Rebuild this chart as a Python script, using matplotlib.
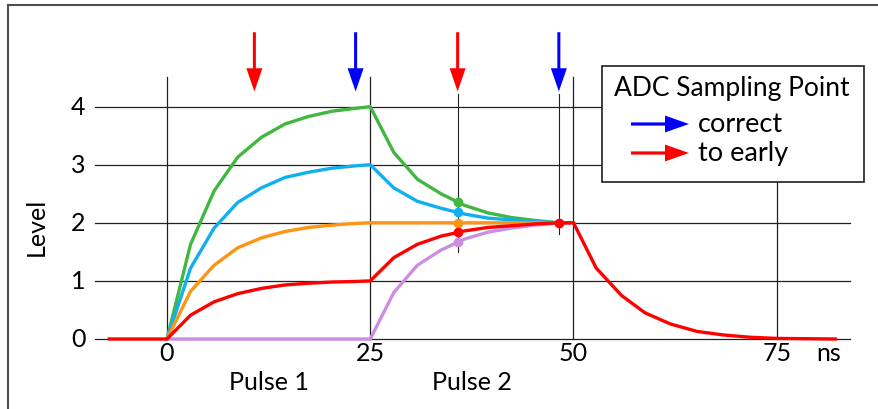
import matplotlib
matplotlib.use("Agg")
import matplotlib.pyplot as plt
from matplotlib.patches import Rectangle

plt.rcParams['font.family'] = ['Lato', 'DejaVu Sans']

# ---------------- data ----------------
pulse_time = [0, 2.9, 5.8, 8.7, 11.6, 14.5, 17.4, 20.3, 23.2, 25,
              27.9, 30.8, 33.7, 36.6, 39.5, 42.4, 45.3, 48.2, 50]
green = [0, 1.63, 2.55, 3.13, 3.47, 3.70, 3.83, 3.92, 3.97, 4.0,
         3.21, 2.75, 2.50, 2.30, 2.17, 2.09, 2.04, 2.0, 2.0]
blue = [0, 1.22, 1.91, 2.35, 2.60, 2.78, 2.87, 2.94, 2.98, 3.0,
        2.60, 2.37, 2.25, 2.15, 2.08, 2.05, 2.02, 2.0, 2.0]
orange = [0, 0.82, 1.27, 1.57, 1.74, 1.85, 1.92, 1.96, 1.99, 2.0,
          2.0, 2.0, 2.0, 2.0, 2.0, 2.0, 2.0, 2.0, 2.0]
pink = [0, 0, 0, 0, 0, 0, 0, 0, 0, 0,
        0.80, 1.27, 1.53, 1.72, 1.84, 1.91, 1.96, 2.0, 2.0]
red_time = [-7.1, 0, 2.9, 5.8, 8.7, 11.6, 14.5, 17.4, 20.3, 23.2, 25,
            27.9, 30.8, 33.7, 36.6, 39.5, 42.4, 45.3, 48.2, 50,
            52.8, 55.9, 58.8, 61.9, 65.2, 68.4, 71.7, 75, 82.2]
red = [0, 0, 0.41, 0.64, 0.78, 0.87, 0.93, 0.96, 0.98, 0.99, 1.0,
       1.40, 1.63, 1.77, 1.86, 1.92, 1.95, 1.98, 2.0, 2.0,
       1.22, 0.75, 0.45, 0.26, 0.13, 0.07, 0.03, 0.01, 0.0]

sample_early = [10.75, 35.75]     # red arrows
sample_correct = [23.2, 48.2]     # blue arrows
marker_time = 35.75
marker_vals = {'green': 2.35, 'blue': 2.18, 'orange': 2.0, 'red': 1.84, 'pink': 1.67}
marker2_time = 48.2
marker2_val = 2.0

x_ticks = [0, 25, 50, 75]
x_tick_labels = ['0', '25', '50', '75']
y_ticks = [0, 1, 2, 3, 4]
pulse_labels = ['Pulse 1', 'Pulse 2']
pulse_label_pos = [12.5, 37.5]

# ---------------- styles ----------------
C_GREEN = '#40b840'
C_BLUE = '#10b0ee'
C_ORANGE = '#ff9312'
C_RED = '#ff0000'
C_PINK = '#cc8ee0'
C_GRID = '#202020'
ARROW_RED = '#ff0000'
ARROW_BLUE = '#0000ff'

fig = plt.figure(figsize=(8.79, 4.10), dpi=100)
ax = fig.add_axes([0, 0, 1, 1])
ax.set_xlim(-20.54, 87.58)
ax.set_ylim(-1.205, 5.852)
ax.axis('off')

# grid lines
for v in y_ticks:
    ax.plot([-8.86, 84.0], [v, v], color=C_GRID, lw=0.9, zorder=1)
for t in x_ticks:
    ax.plot([t, t], [0, 4.51], color=C_GRID, lw=0.9, zorder=1)
ax.plot([marker_time, marker_time], [1.50, 4.22], color=C_GRID, lw=0.8, zorder=1)
ax.plot([marker2_time, marker2_time], [1.81, 4.22], color=C_GRID, lw=0.8, zorder=1)

lw = 2.4
ax.plot(pulse_time, green, color=C_GREEN, lw=lw, zorder=3)
ax.plot(pulse_time, blue, color=C_BLUE, lw=lw, zorder=3)
ax.plot(pulse_time, orange, color=C_ORANGE, lw=lw, zorder=3)
ax.plot(red_time, red, color=C_RED, lw=lw, zorder=4)
ax.plot(pulse_time, pink, color=C_PINK, lw=lw, zorder=3.5)

cols = {'green': C_GREEN, 'blue': C_BLUE, 'orange': C_ORANGE, 'red': C_RED, 'pink': C_PINK}
for k, v in marker_vals.items():
    ax.plot([marker_time], [v], 'o', color=cols[k], ms=6, zorder=5)
ax.plot([marker2_time], [marker2_val], 'o', color=C_RED, ms=6, zorder=5)

# sampling arrows
def down_arrow(x, color):
    ax.arrow(x, 5.28, 0, -1.02, width=0.37, head_width=1.97, head_length=0.40,
             length_includes_head=True, color=color, lw=0, zorder=6)

for x in sample_early:
    down_arrow(x, ARROW_RED)
for x in sample_correct:
    down_arrow(x, ARROW_BLUE)

# tick labels
fs = 18
for v in y_ticks:
    ax.text(-10.0, v, str(v), ha='right', va='center', fontsize=fs, color='black')
for t, lab in zip(x_ticks, x_tick_labels):
    ax.text(t, -0.23, lab, ha='center', va='center', fontsize=fs)
ax.text(79.9, -0.23, 'ns', ha='left', va='center', fontsize=fs)
for t, lab in zip(pulse_label_pos, pulse_labels):
    ax.text(t, -0.74, lab, ha='center', va='center', fontsize=fs)
ax.text(-16.1, 1.95, 'Level', rotation=90, ha='center', va='center', fontsize=fs)

# legend box
x0 = (602 - 167) / 8.13
x1 = (864 - 167) / 8.13
y0 = (340 - 183) / 58.1
y1 = (340 - 67) / 58.1
ax.add_patch(Rectangle((x0, y0), x1 - x0, y1 - y0, facecolor='white',
                       edgecolor='#202020', lw=1.2, zorder=7))
ax.text((x0 + x1) / 2 - 0.2, (340 - 89) / 58.1, 'ADC Sampling Point', ha='center', va='center',
        fontsize=19, zorder=8)
for yy, col, lab in [((340 - 125) / 58.1, ARROW_BLUE, 'correct'),
                     ((340 - 154) / 58.1, ARROW_RED, 'to early')]:
    ax.arrow((631 - 167) / 8.13, yy, (689 - 631) / 8.13, 0, width=0.055, head_width=0.29,
             head_length=2.95, length_includes_head=True, color=col, lw=0, zorder=8)
    ax.text((698 - 167) / 8.13, yy, lab, ha='left', va='center', fontsize=19.5, zorder=8)

# outer frame (left and top edges visible)
fig.add_artist(plt.Line2D([8 / 879, 8 / 879], [0, 1 - 6 / 410], transform=fig.transFigure,
                          color='#505050', lw=1.5))
fig.add_artist(plt.Line2D([8 / 879, 1], [1 - 6 / 410, 1 - 6 / 410], transform=fig.transFigure,
                          color='#505050', lw=1.5))

fig.savefig('out.png', dpi=100)
